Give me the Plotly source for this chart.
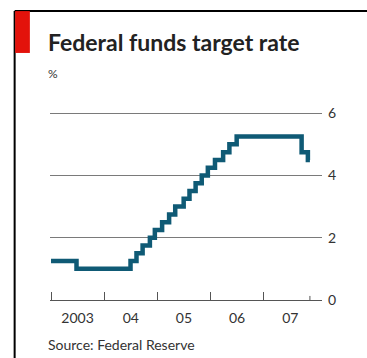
import plotly.graph_objects as go

dates = ["2003-01-01", "2003-06-25", "2004-06-30", "2004-08-10", "2004-09-21",
         "2004-11-10", "2004-12-14", "2005-02-02", "2005-03-22", "2005-05-03",
         "2005-06-30", "2005-08-09", "2005-09-20", "2005-11-01", "2005-12-13",
         "2006-01-31", "2006-03-28", "2006-05-10", "2006-06-29", "2007-09-18",
         "2007-10-31", "2007-11-14"]
rates = [1.25, 1.00, 1.25, 1.50, 1.75, 2.00, 2.25, 2.50, 2.75, 3.00, 3.25, 3.50,
         3.75, 4.00, 4.25, 4.50, 4.75, 5.00, 5.25, 4.75, 4.50, 4.50]

year_starts = ["2003-01-01", "2004-01-01", "2005-01-01", "2006-01-01", "2007-01-01"]
label_pos = ["2003-07-02", "2004-07-02", "2005-07-02", "2006-07-02", "2007-07-02"]
label_text = ["2003", "04", "05", "06", "07"]
y_ticks = [0, 2, 4, 6]

fig = go.Figure()
fig.add_trace(go.Scatter(x=dates, y=rates, mode="lines", line=dict(shape="hv", color="#0f5a75", width=4.5),
                         hoverinfo="skip", showlegend=False))

fig.update_layout(
    width=367, height=358,
    margin=dict(l=50, r=45, t=107, b=58),
    paper_bgcolor="white", plot_bgcolor="white",
    font=dict(family="Lato, sans-serif", color="#333"),
    xaxis=dict(type="date", range=["2002-12-25", "2008-02-05"],
               tickvals=label_pos, ticktext=label_text, ticks="",
               showgrid=False, zeroline=False,
               showline=True, linecolor="#555", linewidth=1,
               tickfont=dict(size=14, color="#333"), ticklabelstandoff=5,
               minor=dict(tickvals=year_starts, ticks="inside", ticklen=8, tickcolor="#555", tickwidth=1, showgrid=False)),
    yaxis=dict(range=[0, 6.2], side="right", tickvals=y_ticks, ticks="",
               showgrid=True, gridcolor="#7a7a7a", gridwidth=1, zeroline=False,
               tickfont=dict(size=14, color="#333"), ticklabelstandoff=5),
    shapes=[
        dict(type="line", xref="paper", yref="paper", x0=-0.13, x1=1.2, y0=1.497, y1=1.497, line=dict(color="black", width=2)),
        dict(type="line", xref="paper", yref="paper", x0=-0.13, x1=-0.13, y0=-1, y1=1.497, line=dict(color="black", width=2)),
        dict(type="line", xref="x", yref="y", x0=dates[-1], x1=dates[-1], y0=0, y1=0.13, line=dict(color="#555", width=1)),
    ],
)
fig.add_shape(type="rect", xref="paper", yref="paper", x0=-0.128, x1=-0.074, y0=1.28, y1=1.497, fillcolor="#e3120b", line=dict(width=0))

fig.add_annotation(text="<b>Federal funds target rate</b>", xref="paper", yref="paper", x=-0.015, y=1.255,
                   xanchor="left", yanchor="bottom", showarrow=False, font=dict(size=23, color="#222"))
fig.add_annotation(text="%", xref="paper", yref="paper", x=-0.013, y=1.171, xanchor="left", yanchor="middle",
                   showarrow=False, font=dict(size=12, color="#333"))
fig.add_annotation(text="Source: Federal Reserve", xref="paper", yref="paper", x=-0.013, y=-0.233,
                   xanchor="left", yanchor="middle", showarrow=False, font=dict(size=14, color="#333"))

fig.write_html("out.html")
